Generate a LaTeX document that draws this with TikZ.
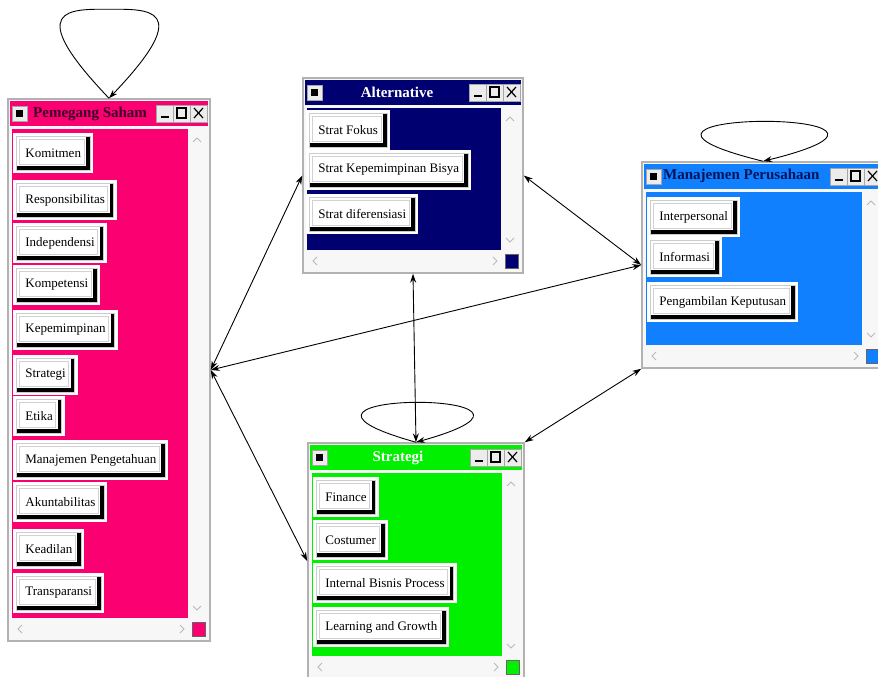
\documentclass[tikz,border=0pt]{standalone}
\usepackage{fontspec}
\setmainfont{Liberation Serif}
\usetikzlibrary{arrows.meta, fit}

\definecolor{pemcol}{RGB}{250,0,112}
\definecolor{altcol}{RGB}{0,0,112}
\definecolor{mancol}{RGB}{16,128,255}
\definecolor{strcol}{RGB}{0,240,0}
\definecolor{pemtext}{RGB}{60,0,40}
\definecolor{mantext}{RGB}{0,20,90}

\tikzset{
  winframe/.style={draw=gray!60, line width=1.5pt, fill=gray!6, inner sep=0pt},
  wintitle/.style={font=\fontsize{15}{17}\selectfont\bfseries, inner sep=0pt},
  tbtn/.style={draw=gray!70, fill=gray!15, line width=0.6pt},
  chev/.style={draw=gray!55, line width=1pt},
  statebtn/.style={anchor=west, font=\fontsize{13}{15}\selectfont, fill=white,
    draw=gray!40, line width=0.8pt, inner xsep=9pt, minimum height=34pt,
    preaction={draw=white, line width=6pt},
    path picture={
      \fill[black] ([xshift=-4pt]path picture bounding box.north east) rectangle (path picture bounding box.south east);
      \fill[black] (path picture bounding box.south west) rectangle ([yshift=4pt]path picture bounding box.south east);
      \draw[gray!35, line width=0.7pt] ([shift={(3pt,-3pt)}]path picture bounding box.north west) rectangle ([shift={(-6pt,6pt)}]path picture bounding box.south east);
    }},
  link/.style={<->, line width=0.9pt},
  >={Stealth[length=9pt, width=6pt]}
}

% #1 name, #2 left, #3 top, #4 right, #5 bottom, #6 colour
\newcommand{\genwin}[6]{%
  \node[winframe, fit={(#2,#3) (#4,#5)}] (#1) {};
  \fill[#6] (#2+2,#3+2) rectangle (#4-2,#3+27);
  \fill[#6] (#2+4,#3+30) rectangle (#4-22,#5-23);
  \draw[tbtn] (#2+4,#3+7) rectangle ++(15,15);
  \fill (#2+8,#3+11) rectangle ++(7,7);
  \foreach \k in {1,2,3} \draw[tbtn] (#4-3-17*\k,#3+6) rectangle ++(17,17);
  \draw[line width=2pt] (#4-49,#3+18) -- ++(8,0);
  \draw[line width=1.2pt] (#4-33,#3+9) rectangle ++(9,10);
  \draw[line width=1.2pt] (#4-16,#3+9) -- ++(9,10) (#4-16,#3+19) -- ++(9,-10);
  \draw[chev] (#4-17,#3+43) -- ++(4,-4) -- ++(4,4);
  \draw[chev] (#4-17,#5-35) -- ++(4,4) -- ++(4,-4);
  \draw[chev] (#2+14,#5-16) -- ++(-4,4) -- ++(4,4);
  \draw[chev] (#4-30,#5-16) -- ++(4,4) -- ++(-4,4);
  \draw[fill=#6, draw=black!60] (#4-18,#5-19) rectangle (#4-5,#5-5);
}

\begin{document}
\begin{tikzpicture}[x=1pt, y=-1pt]
\useasboundingbox (0,0) rectangle (878,677);
\clip (0,0) rectangle (878,677);

\genwin{pemegang}{8}{99}{210}{641}{pemcol}
\genwin{alternative}{303}{78}{523}{273}{altcol}
\genwin{manajemen}{642}{162}{884}{368}{mancol}
\genwin{strategi}{308}{443}{524}{679}{strcol}

\node[wintitle, text=pemtext, anchor=west] (pemhead) at (33,114) {Pemegang Saham};
\node[wintitle, text=white] (althead) at (397,92) {Alternative};
\node[wintitle, text=mantext, anchor=west] (manhead) at (663,176) {Manajemen Perusahaan};
\node[wintitle, text=white] (strhead) at (398,458) {Strategi};

\node[statebtn] (komitmen) at (16,153) {Komitmen};
\node[statebtn] (responsibilitas) at (16,200) {Responsibilitas};
\node[statebtn] (independensi) at (16,243) {Independensi};
\node[statebtn] (kompetensi) at (16,285) {Kompetensi};
\node[statebtn] (kepemimpinan) at (16,330) {Kepemimpinan};
\node[statebtn] (strategiitem) at (16,375) {Strategi};
\node[statebtn] (etika) at (16,416) {Etika};
\node[statebtn] (pengetahuan) at (16,460) {Manajemen Pengetahuan};
\node[statebtn] (akuntabilitas) at (16,502) {Akuntabilitas};
\node[statebtn] (keadilan) at (16,549) {Keadilan};
\node[statebtn] (transparansi) at (16,593) {Transparansi};

\node[statebtn] (fokus) at (309,130) {Strat Fokus};
\node[statebtn] (biaya) at (309,170) {Strat Kepemimpinan Bisya};
\node[statebtn] (diferensiasi) at (309,214) {Strat diferensiasi};

\node[statebtn] (interpersonal) at (650,217) {Interpersonal};
\node[statebtn] (informasi) at (650,257) {Informasi};
\node[statebtn] (keputusan) at (650,302) {Pengambilan Keputusan};

\node[statebtn] (finance) at (316,497) {Finance};
\node[statebtn] (costumer) at (316,540) {Costumer};
\node[statebtn] (bisnis) at (316,583) {Internal Bisnis Process};
\node[statebtn] (growth) at (316,627) {Learning and Growth};

\draw[->, line width=0.9pt] (pemegang.north) .. controls +(-88,-92) and +(-38,0) .. ++(0,-89)
  .. controls +(38,0) and +(88,-92) .. (pemegang.north);
\draw[->, line width=0.9pt] (manajemen.north) .. controls +(-215,-53) and +(215,-53) .. (manajemen.north);
\draw[->, line width=0.9pt] (strategi.north) .. controls +(-190,-53) and +(190,-53) .. (strategi.north);

\draw (pemegang.east) edge[link] (alternative.west);
\draw (pemegang.east) edge[link] (manajemen.west);
\draw (pemegang.east) edge[link] (strategi.west);
\draw (alternative.east) edge[link] (manajemen.west);
\draw (alternative.south) edge[link] (strategi.north);
\draw (manajemen.south west) edge[link] (strategi.north east);
\end{tikzpicture}
\end{document}
